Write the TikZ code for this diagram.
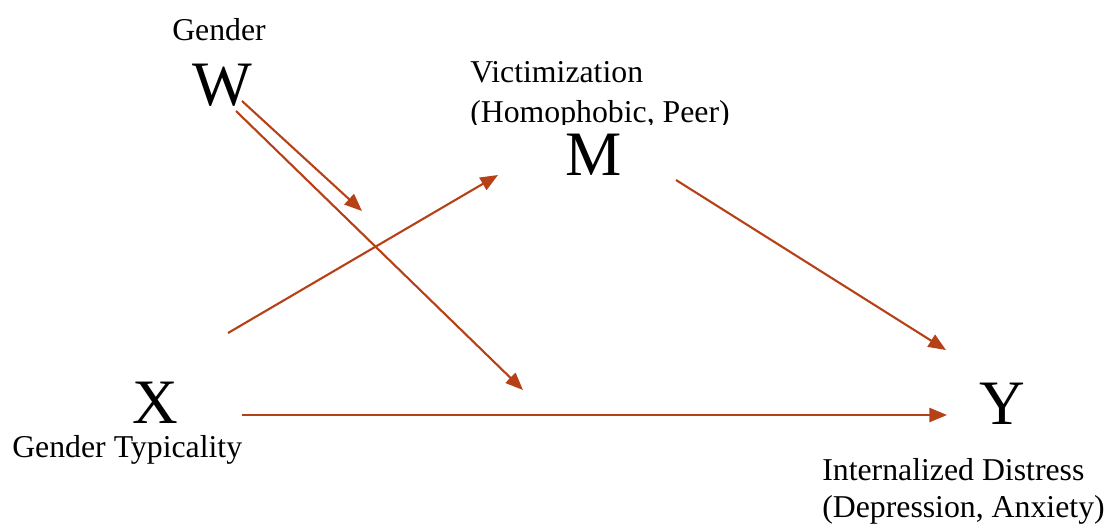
\documentclass[tikz,border=0pt]{standalone}
\usepackage{fontspec}
\setmainfont{Liberation Serif}
\usetikzlibrary{arrows.meta}
\definecolor{rust}{RGB}{183,65,22}
\tikzset{
  lbl/.style={inner sep=0pt, anchor=base west, font=\fontsize{22.6}{27}\selectfont},
  var/.style={inner sep=0pt, anchor=base, font=\fontsize{45}{50}\selectfont},
  arr/.style={draw=rust, line width=1.5pt, -{Triangle[length=12.5pt,width=10pt]}}
}
\begin{document}
\begin{tikzpicture}[x=0.025cm,y=-0.025cm]
\useasboundingbox (0,0) rectangle (1109,527);
% labels
\node[lbl] (lgender) at (172,40) {Gender};
\node[lbl] (lvict) at (470,82) {Victimization};
\begin{scope}
\clip (460,95) rectangle (760,124.5);
\node[lbl] (lhomo) at (470,122) {(Homophobic, Peer)};
\end{scope}
\node[lbl] (ltyp) at (12,457) {Gender Typicality};
\node[lbl] (lint) at (822,480) {Internalized Distress};
\node[lbl] (ldep) at (822,517) {(Depression, Anxiety)};
% variables
\node[var] (W) at (222,105) {W};
\node[var] (M) at (594,175) {M};
\node[var] (X) at (155,423) {X};
\node[var] (Y) at (1002,424) {Y};
% connector end points
\coordinate (w1) at (242,101);
\coordinate (w1e) at (362,211);
\coordinate (w2) at (236,111);
\coordinate (w2e) at (523,390);
\coordinate (x1) at (228,333);
\coordinate (x1e) at (498,175);
\coordinate (m1) at (676,180);
\coordinate (m1e) at (946,350);
\coordinate (x2) at (242,415);
\coordinate (x2e) at (947,415);
% connectors
\draw[arr] (w1) -- (w1e);
\draw[arr] (w2) -- (w2e);
\draw[arr] (x1) -- (x1e);
\draw[arr] (m1) -- (m1e);
\draw[arr] (x2) -- (x2e);
\end{tikzpicture}
\end{document}
